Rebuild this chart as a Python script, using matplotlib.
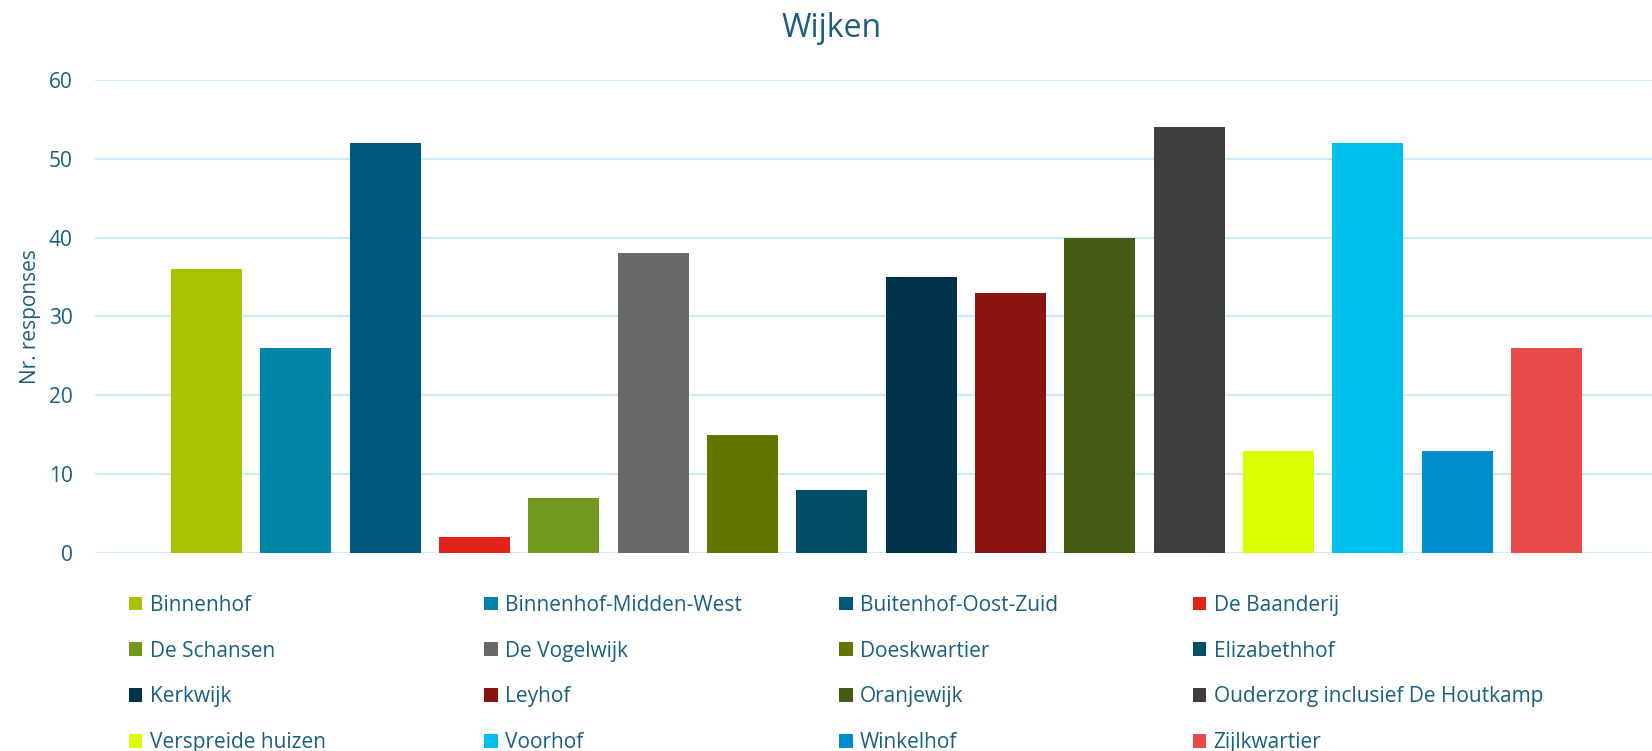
import matplotlib.pyplot as plt
from matplotlib.patches import Patch

plt.rcParams['font.family'] = ['Open Sans', 'DejaVu Sans']

# data
wijken = ['Binnenhof', 'Binnenhof-Midden-West', 'Buitenhof-Oost-Zuid', 'De Baanderij',
          'De Schansen', 'De Vogelwijk', 'Doeskwartier', 'Elizabethhof',
          'Kerkwijk', 'Leyhof', 'Oranjewijk', 'Ouderzorg inclusief De Houtkamp',
          'Verspreide huizen', 'Voorhof', 'Winkelhof', 'Zijlkwartier']
responses = [36, 26, 52, 2, 7, 38, 15, 8, 35, 33, 40, 54, 13, 52, 13, 26]
colors = ['#A8C300', '#0086AB', '#00587D', '#E2231A',
          '#72981F', '#686868', '#627500', '#004F66',
          '#00344D', '#891410', '#455C12', '#3E3E3E',
          '#D9FF00', '#00BFEB', '#008DCB', '#E84C49']

text_color = '#1A5E80'
grid_color = '#C9EBFA'

fig = plt.figure(figsize=(16.52, 7.51), dpi=100)
ax = fig.add_axes([0.0575, 0.2636, 0.9425, 0.63])

x = range(len(wijken))
ax.bar(x, responses, width=0.795, color=colors, zorder=3)

ax.set_ylim(0, 60)
ax.set_xlim(-1.25, 16.18)
ax.set_yticks(range(0, 61, 10))
ax.set_xticks([])
ax.grid(axis='y', color=grid_color, linewidth=1.5, zorder=0)
for s in ax.spines.values():
    s.set_visible(False)
ax.tick_params(axis='y', length=0, pad=16, labelsize=15, labelcolor=text_color)
ax.set_ylabel('Nr. responses', fontsize=15, color=text_color, labelpad=6)

fig.text(0.5035, 0.962, 'Wijken', ha='center', va='center', fontsize=23, color=text_color)

# legend, four columns filled row by row
handles = [Patch(facecolor=c, edgecolor='none', label=n) for c, n in zip(colors, wijken)]
col_x = [0.078, 0.293, 0.508, 0.722]
for c in range(4):
    fig.legend(handles=handles[c::4], loc='upper left', bbox_to_anchor=(col_x[c], 0.208),
               frameon=False, fontsize=15, labelcolor=text_color,
               handlelength=0.65, handleheight=0.65, handletextpad=0.35,
               labelspacing=1.19, borderaxespad=0, borderpad=0)

fig.savefig('out.png', dpi=100)
